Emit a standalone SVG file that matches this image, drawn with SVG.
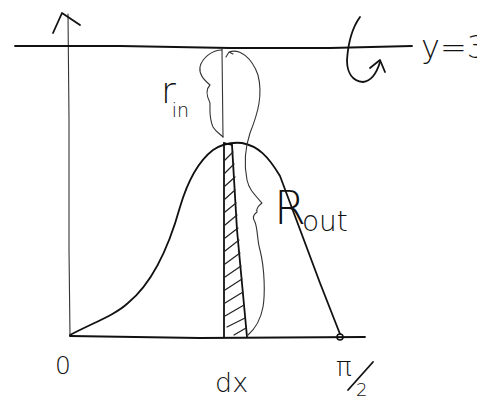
<svg xmlns="http://www.w3.org/2000/svg" width="477" height="401" viewBox="0 0 477 401">
<style>
.ink{fill:none;stroke:#111;stroke-width:1.8;stroke-linecap:round;stroke-linejoin:round}
.thin{fill:none;stroke:#333;stroke-width:1.1;stroke-linecap:round;stroke-linejoin:round}
.hat{fill:none;stroke:#222;stroke-width:1.2;stroke-linecap:round}
text{font-family:"DejaVu Sans","Liberation Sans",sans-serif;font-weight:200;fill:#111}
</style>
<rect width="477" height="401" fill="#fff"/>
<g id="axes">
<path class="thin" d="M68 14 L69 120 L69 250 L70 336"/>
<path class="ink" d="M53 33 L62 13 L80 25"/>
<path class="ink" d="M15 46 L120 46 L230 48 L330 48 L412 46"/>
<path class="ink" d="M70 336 L200 338 L365 337"/>
<circle cx="340" cy="337" r="3" fill="none" stroke="#111" stroke-width="1.5"/>
</g>
<g id="rotation">
<path class="ink" d="M360 17 C352 28 348 45 347 60 C347 72 352 81 363 82 C372 81 377 72 380 62"/>
<path class="ink" d="M370 68 L380 60 L385 72"/>
</g>
<g id="curve">
<path class="ink" d="M70 335 C95 322 115 315 128 303 C150 285 168 250 180 207 C188 180 200 160 213 150 C222 144 232 142 242 143 C258 146 268 156 280 176 L320 283 L340 334"/>
</g>
<g id="strip">
<path class="ink" d="M224 143 L224 337"/>
<path class="ink" d="M232 145 L237 230 L247 337"/>
<path class="ink" d="M224 143 L232 145"/>
<path class="hat" d="M225 160 L233 152 M225 173 L234 164 M225 186 L235 177 M225 199 L235 190 M225 212 L236 203 M225 225 L237 215 M225 238 L238 228 M225 251 L239 240 M225 264 L240 253 M225 277 L241 266 M225 290 L242 279 M225 303 L243 292 M225 316 L244 305 M227 327 L245 318 M234 335 L246 328"/>
</g>
<g id="r-in">
<path class="thin" d="M222 49 L223 137"/>
<path class="thin" d="M222 50 C212 50 202 58 200 67 C199 74 203 79 210 85 C205 90 207 97 210 103 C210 110 209 118 213 127 C216 132 220 134 223 137"/>
<text x="161" y="103" font-size="36">r<tspan font-size="19" dx="-4" dy="14">in</tspan></text>
</g>
<g id="r-out">
<path class="thin" d="M226 57 L229 52 L233 54 M229 52 C240 48 252 58 258 75 C263 95 258 113 250 133 C245 148 244 165 247 180 C249 189 253 193 262 203 C258 206 256 209 257 212 C253 215 252 218 255 222 C258 230 257 240 260 250 C265 270 265 295 263 307 C261 318 257 327 248 335"/>
<text x="274" y="224" font-size="46">R<tspan font-size="28" dx="-4" dy="7">out</tspan></text>
</g>
<g id="labels">
<text x="421" y="58" font-size="32">y=3</text>
<text x="55" y="374" font-size="25">0</text>
<text x="215" y="392" font-size="27">dx</text>
<text x="336" y="376" font-size="26">π</text>
<path class="ink" d="M373 362 L348 390"/>
<text x="356" y="396" font-size="18">2</text>
</g>
</svg>
